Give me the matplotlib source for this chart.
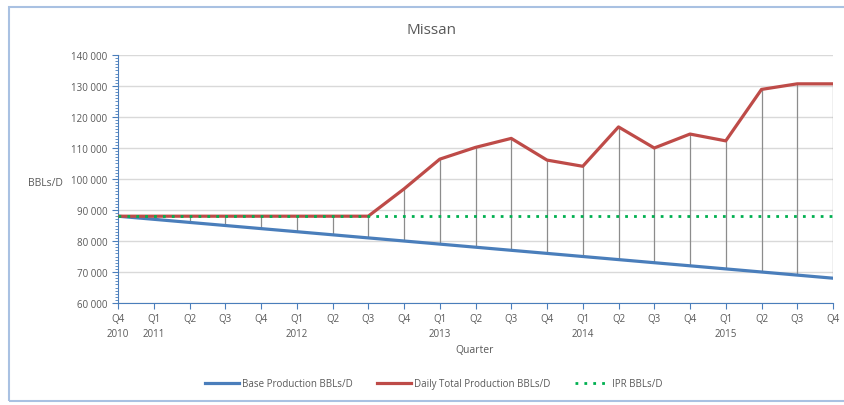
import matplotlib.pyplot as plt
from matplotlib.patches import Rectangle
from matplotlib.ticker import MultipleLocator, FuncFormatter

plt.rcParams['font.family'] = ['Open Sans', 'DejaVu Sans']

# Data
quarters = ['Q4\n2010', 'Q1\n2011', 'Q2', 'Q3', 'Q4', 'Q1\n2012', 'Q2', 'Q3', 'Q4',
            'Q1\n2013', 'Q2', 'Q3', 'Q4', 'Q1\n2014', 'Q2', 'Q3', 'Q4',
            'Q1\n2015', 'Q2', 'Q3', 'Q4']
base = [88000, 87000, 86000, 85000, 84000, 83000, 82000, 81000, 80000, 79000, 78000,
        77000, 76000, 75000, 74000, 73000, 72000, 71000, 70000, 69000, 68000]
total = [88000, 88000, 88000, 88000, 88000, 88000, 88000, 88000, 96800, 106400, 110200,
         113100, 106100, 104100, 116800, 110000, 114500, 112300, 128900, 130700, 130700]
ipr = [88000] * 21

blue = '#4a7ebb'
red = '#be4b48'
green = '#00b050'
txt = '#595959'

fig = plt.figure(figsize=(8.44, 4.06), dpi=100)
ax = fig.add_axes([118 / 844, 1 - 304 / 406, 715 / 844, 248 / 406])

x = list(range(len(quarters)))

# drop lines
ax.vlines(x, base, total, color='#8c8c8c', lw=0.9, zorder=2)

ax.plot(x, base, color=blue, lw=2.3, label='Base Production BBLs/D', zorder=3)
ax.plot(x, total, color=red, lw=2.3, label='Daily Total Production BBLs/D', zorder=4)
ax.plot(x, ipr, color=green, lw=2, ls=(0, (1, 2.2)), label='IPR BBLs/D', zorder=5)

ax.set_xlim(0, 20)
ax.set_ylim(60000, 140000)
ax.set_xticks(x)
ax.set_xticklabels(quarters, fontsize=7, color=txt, linespacing=1.5)
ax.yaxis.set_major_locator(MultipleLocator(10000))
ax.yaxis.set_minor_locator(MultipleLocator(1000))
ax.yaxis.set_major_formatter(FuncFormatter(lambda v, p: f'{int(v):,}'.replace(',', ' ')))
ax.tick_params(axis='y', labelsize=7, colors=blue, labelcolor=txt, length=4, width=0.8)
ax.tick_params(axis='y', which='minor', length=2, width=0.6, colors=blue)
ax.tick_params(axis='x', colors=blue, labelcolor=txt, length=4, width=0.8, pad=3)

ax.grid(axis='y', color='#d9d9d9', lw=1)
ax.set_axisbelow(True)
for s in ['top', 'right']:
    ax.spines[s].set_visible(False)
ax.spines['left'].set_color(blue)
ax.spines['bottom'].set_color(blue)
ax.spines['left'].set_linewidth(0.8)
ax.spines['bottom'].set_linewidth(0.8)

fig.text(431 / 844, 1 - 30 / 406, 'Missan', ha='center', va='center', fontsize=11, color=txt)
fig.text(45 / 844, 1 - 183 / 406, 'BBLs/D', ha='center', va='center', fontsize=7.5, color=txt)
fig.text(475 / 844, 1 - 351 / 406, 'Quarter', ha='center', va='center', fontsize=7.5, color=txt)

fig.legend(loc='center', bbox_to_anchor=(434 / 844, 1 - 385 / 406), ncol=3, frameon=False,
           fontsize=7, labelcolor=txt, handlelength=3.5, columnspacing=2.5, handletextpad=0.3)

fig.patches.append(Rectangle((9 / 844, 1 - 402 / 406), 1.2, 394 / 406, transform=fig.transFigure,
                             fill=False, ec='#a9c1e2', lw=1.5))

fig.savefig('out.png', dpi=100)
